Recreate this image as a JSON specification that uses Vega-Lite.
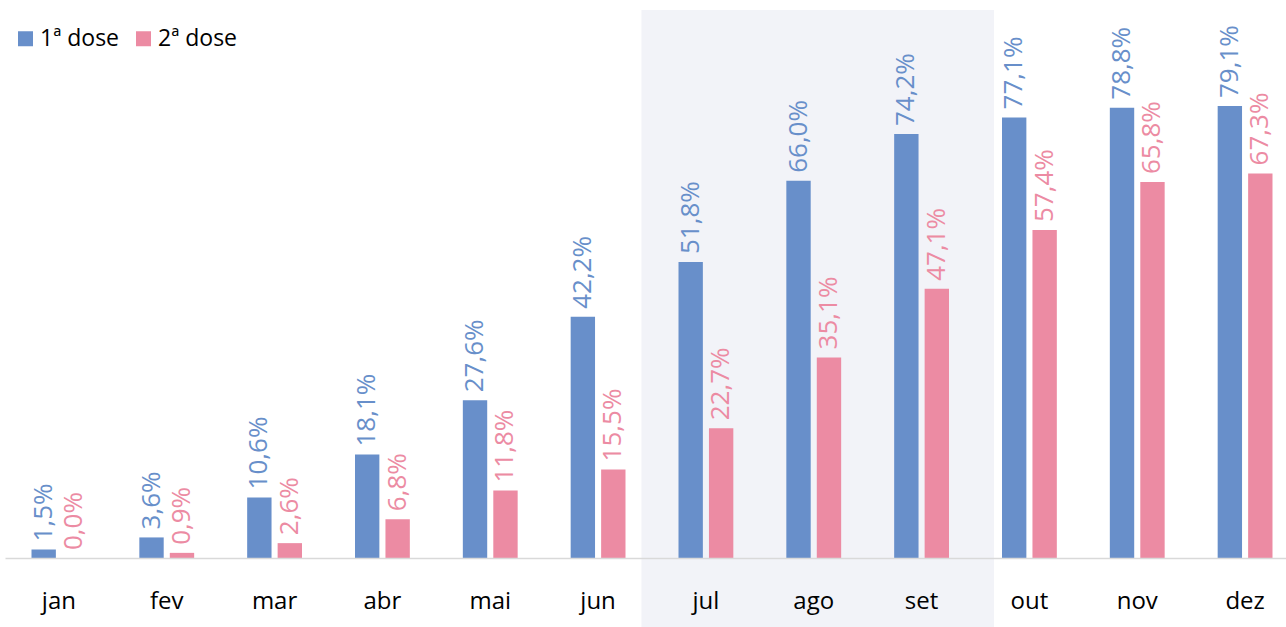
{
  "$schema": "https://vega.github.io/schema/vega-lite/v6.json",
  "width": 1281,
  "height": 548,
  "autosize": {"type": "none"},
  "padding": {"left": 5, "top": 10, "right": 0, "bottom": 69},
  "background": "white",
  "config": {
    "view": {"stroke": null},
    "font": "Open Sans",
    "locale": {"number": {"decimal": ",", "thousands": ".", "grouping": [3], "currency": ["R$", ""]}}
  },
  "datasets": {
    "vac": [
      {"month": "jan", "dose": "1ª dose", "value": 0.015},
      {"month": "jan", "dose": "2ª dose", "value": 0.000},
      {"month": "fev", "dose": "1ª dose", "value": 0.036},
      {"month": "fev", "dose": "2ª dose", "value": 0.009},
      {"month": "mar", "dose": "1ª dose", "value": 0.106},
      {"month": "mar", "dose": "2ª dose", "value": 0.026},
      {"month": "abr", "dose": "1ª dose", "value": 0.181},
      {"month": "abr", "dose": "2ª dose", "value": 0.068},
      {"month": "mai", "dose": "1ª dose", "value": 0.276},
      {"month": "mai", "dose": "2ª dose", "value": 0.118},
      {"month": "jun", "dose": "1ª dose", "value": 0.422},
      {"month": "jun", "dose": "2ª dose", "value": 0.155},
      {"month": "jul", "dose": "1ª dose", "value": 0.518},
      {"month": "jul", "dose": "2ª dose", "value": 0.227},
      {"month": "ago", "dose": "1ª dose", "value": 0.660},
      {"month": "ago", "dose": "2ª dose", "value": 0.351},
      {"month": "set", "dose": "1ª dose", "value": 0.742},
      {"month": "set", "dose": "2ª dose", "value": 0.471},
      {"month": "out", "dose": "1ª dose", "value": 0.771},
      {"month": "out", "dose": "2ª dose", "value": 0.574},
      {"month": "nov", "dose": "1ª dose", "value": 0.788},
      {"month": "nov", "dose": "2ª dose", "value": 0.658},
      {"month": "dez", "dose": "1ª dose", "value": 0.791},
      {"month": "dez", "dose": "2ª dose", "value": 0.673}
    ],
    "hl": [
      {"month": "jul"},
      {"month": "ago"},
      {"month": "set"}
    ]
  },
  "layer": [
    {
      "data": {"name": "hl"},
      "mark": {"type": "bar", "color": "#f2f3f8", "width": {"band": 1.27}, "xOffset": 4},
      "encoding": {
        "x": {
          "field": "month", "type": "nominal",
          "scale": {"domain": ["jan","fev","mar","abr","mai","jun","jul","ago","set","out","nov","dez"], "range": [0, 1294], "paddingInner": 0, "paddingOuter": 0},
          "axis": {"title": null, "labelAngle": 0, "labelFontSize": 24, "labelColor": "#000000", "labelBaseline": "alphabetic", "labelPadding": 50, "ticks": false, "tickSize": 0, "domainColor": "#d9d9d9", "domainWidth": 1.5, "zindex": 1}
        },
        "y": {"datum": 0.959, "type": "quantitative", "scale": {"domain": [0, 0.959], "nice": false, "zero": true}, "axis": null},
        "y2": {"datum": -0.125}
      }
    },
    {
      "data": {"name": "vac"},
      "mark": {"type": "bar"},
      "encoding": {
        "x": {"field": "month", "type": "nominal"},
        "xOffset": {"field": "dose", "type": "nominal", "scale": {"paddingInner": 0.2, "paddingOuter": 0.87}},
        "y": {"field": "value", "type": "quantitative"},
        "color": {
          "field": "dose", "type": "nominal",
          "scale": {"domain": ["1ª dose", "2ª dose"], "range": ["#688fca", "#ec8ba3"]},
          "legend": {"title": null, "orient": "none", "legendX": 9, "legendY": 17, "direction": "horizontal", "symbolType": "square", "symbolSize": 225, "symbolStrokeWidth": 0, "labelFontSize": 23, "labelColor": "#000000", "labelOffset": 3, "columnPadding": 12}
        }
      }
    },
    {
      "data": {"name": "vac"},
      "mark": {"type": "text", "angle": 270, "align": "left", "baseline": "middle", "dx": 8, "fontSize": 26},
      "encoding": {
        "x": {"field": "month", "type": "nominal"},
        "xOffset": {"field": "dose", "type": "nominal"},
        "y": {"field": "value", "type": "quantitative"},
        "text": {"field": "value", "type": "quantitative", "format": ".1%"},
        "color": {"field": "dose", "type": "nominal", "legend": null}
      }
    }
  ]
}
